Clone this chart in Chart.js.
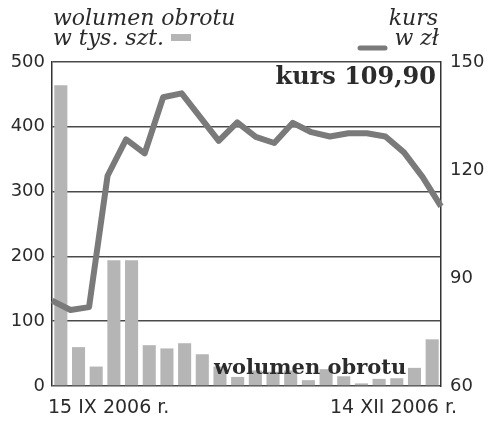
<!DOCTYPE html>
<html>
<head>
<meta charset="utf-8">
<script src="https://cdn.jsdelivr.net/npm/chart.js@4"></script>
<style>
  body { margin: 0; background: #fff; }
  canvas { display: block; }
</style>
</head>
<body>
<canvas id="chart" width="500" height="425"></canvas>
<script>
// sessions from 15 IX 2006 to 14 XII 2006
const sessions = [
    '15 IX 2006 r.', '', '', '', '', '', '', '', '', '', '',
    '', '', '', '', '', '', '', '', '', '', '14 XII 2006 r.',
];
// wolumen obrotu, w tys. szt.
const volume = [464, 60, 30, 194, 194, 63, 58, 66, 49, 30, 14, 24, 22, 24, 9, 26, 15, 4, 11, 12, 28, 72];
// kurs, w zł
const price = [83.7, 81.1, 81.9, 118.4, 128.5, 124.6, 140.2, 141.3, 134.7, 128.1, 133.2,
    129.2, 127.5, 133.1, 130.5, 129.3, 130.2, 130.2, 129.3, 124.9, 118.1, 109.9];
const volumeTicks = [0, 100, 200, 300, 400, 500];
const priceTicks = [60, 90, 120, 150];

const barColor = '#b5b5b5';
const lineColor = '#7a7a7a';
const inkColor = '#2b2b2b';

Chart.defaults.font.family = '"DejaVu Sans"';
Chart.defaults.font.size = 18;

const textPlugin = {
    id: 'texts',
    afterDraw(chart) {
        const c = chart.ctx;
        c.save();
        c.fillStyle = inkColor;
        c.textBaseline = 'alphabetic';

        // header
        c.font = 'italic 22px "DejaVu Serif"';
        c.textAlign = 'left';
        c.fillText('wolumen obrotu', 53, 25);
        c.fillText('w tys. szt.', 53, 45);
        c.textAlign = 'right';
        c.fillText('kurs', 438, 25);
        c.fillText('w zł', 439, 45);

        c.fillStyle = barColor;
        c.fillRect(171, 34, 20, 7);
        c.strokeStyle = lineColor;
        c.lineWidth = 5;
        c.lineCap = 'round';
        c.beginPath();
        c.moveTo(360, 48);
        c.lineTo(385, 48);
        c.stroke();

        // last price
        c.fillStyle = inkColor;
        c.font = 'bold 24px "DejaVu Serif"';
        c.textAlign = 'right';
        c.fillText('kurs ' + price[price.length - 1].toFixed(2).replace('.', ','), 436, 84);

        c.font = 'bold 21px "DejaVu Serif"';
        c.textAlign = 'left';
        c.fillText('wolumen obrotu', 214, 374);

        // first and last date
        c.font = '19px "DejaVu Sans"';
        c.textAlign = 'left';
        c.fillText(sessions[0], 48, 413);
        c.textAlign = 'right';
        c.fillText(sessions[sessions.length - 1], 457, 413);
        c.restore();
    },
};

const ctx = document.getElementById('chart').getContext('2d');

const chart = new Chart(ctx, {
    type: 'line',
    data: {
        labels: sessions,
        datasets: [
            {
                label: 'kurs',
                data: price,
                xAxisID: 'x2',
                yAxisID: 'y1',
                borderColor: lineColor,
                borderWidth: 6,
                borderJoinStyle: 'round',
                pointRadius: 0,
                tension: 0,
                order: 0,
            },
            {
                type: 'bar',
                label: 'wolumen obrotu',
                data: volume,
                xAxisID: 'x',
                yAxisID: 'y',
                backgroundColor: barColor,
                barPercentage: 0.74,
                categoryPercentage: 1,
                grouped: false,
                order: 1,
            },
        ],
    },
    options: {
        responsive: false,
        animation: false,
        devicePixelRatio: 1,
        layout: { padding: { top: 62, bottom: 39, left: 0, right: 0 } },
        plugins: { legend: { display: false }, tooltip: { enabled: false } },
        scales: {
            x: { type: 'category', offset: true, display: false },
            x2: { type: 'category', offset: false, display: false },
            y: {
                position: 'left',
                min: 0,
                max: 500,
                afterFit: (s) => { s.width = 52; },
                afterBuildTicks: (s) => { s.ticks = volumeTicks.map((v) => ({ value: v })); },
                ticks: { color: inkColor, font: { size: 18 }, padding: 7 },
                grid: { color: '#4a4a4a', lineWidth: 1.5, drawTicks: false },
                border: { display: true, color: '#333', width: 1.5 },
            },
            y1: {
                position: 'right',
                min: 60,
                max: 150,
                afterFit: (s) => { s.width = 59; },
                afterBuildTicks: (s) => { s.ticks = priceTicks.map((v) => ({ value: v })); },
                ticks: { color: inkColor, font: { size: 18 }, padding: 9 },
                grid: { drawOnChartArea: false, drawTicks: false },
                border: { display: true, color: '#333', width: 1.5 },
            },
        },
    },
    plugins: [textPlugin],
});
</script>
</body>
</html>
